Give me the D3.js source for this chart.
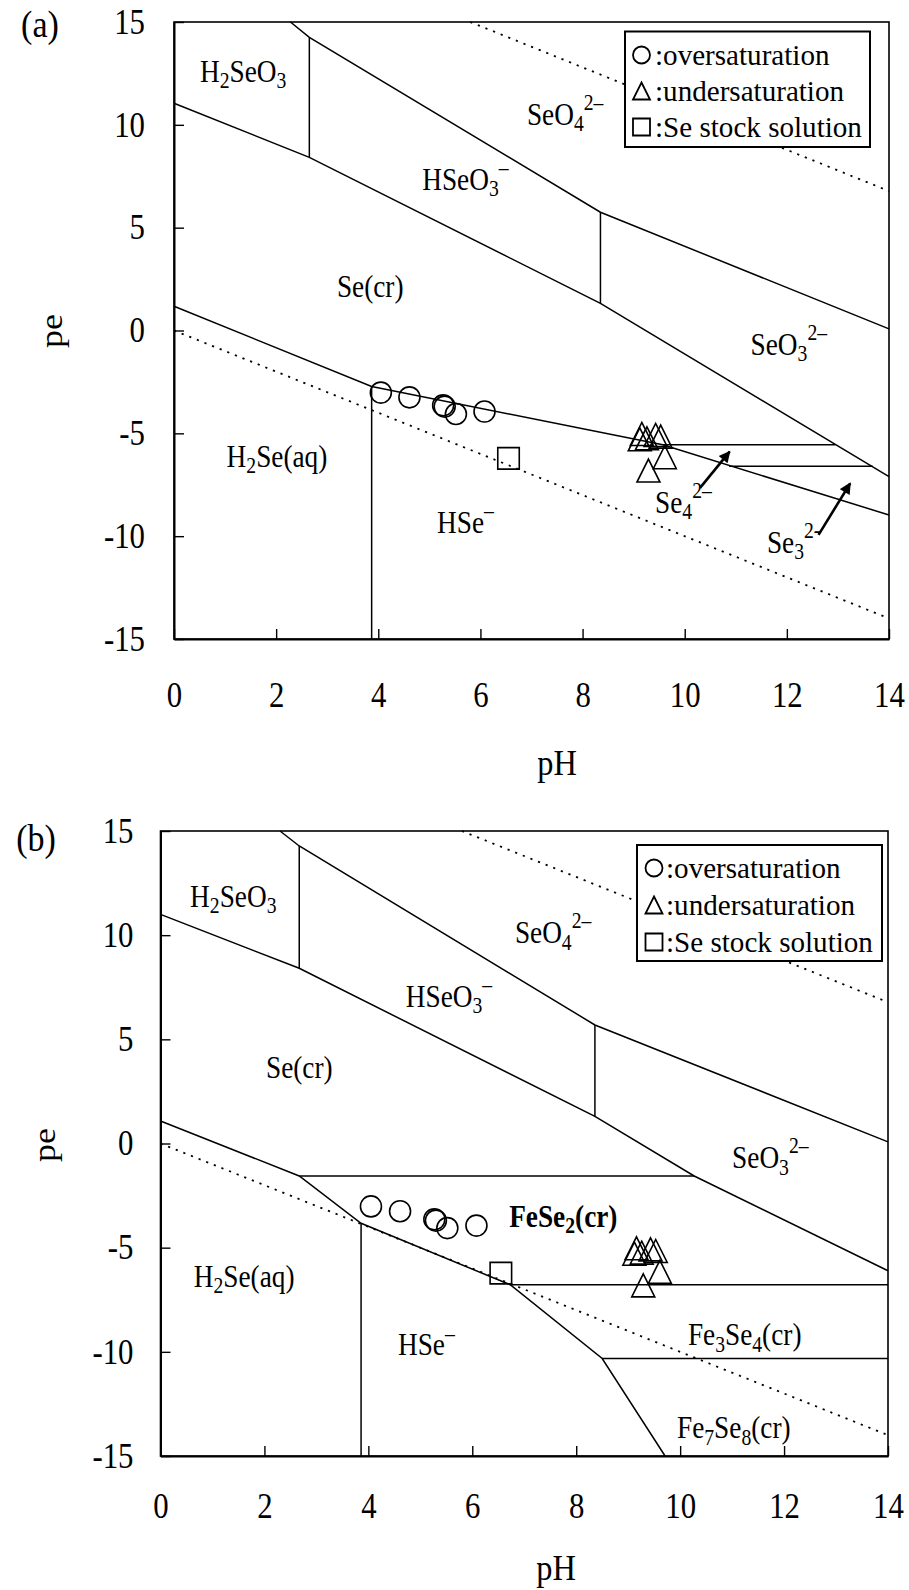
<!DOCTYPE html>
<html>
<head>
<meta charset="utf-8">
<script src="https://cdn.jsdelivr.net/npm/d3@7"></script>
<style>
  body { margin: 0; background: #fff; }
  svg { display: block; }
  text { font-family: "Liberation Serif", "Times New Roman", serif; fill: #000; }
</style>
</head>
<body>
<svg id="fig" width="909" height="1590"></svg>
<script>
// ---- axis ticks ----
const pHTicks = [0, 2, 4, 6, 8, 10, 12, 14];
const peTicks = [15, 10, 5, 0, -5, -10, -15];

// ---- measured solutions, [pH, pe] ----
const overPoints  = [[4.05, -3.02], [4.61, -3.25], [5.27, -3.64], [5.30, -3.70], [5.52, -4.06], [6.08, -3.94]];
const underPoints = [[9.16, -5.03], [9.43, -5.08], [9.53, -5.16], [9.12, -5.29], [9.26, -5.24], [9.61, -6.16], [9.29, -6.81]];
const stockPoints = [[6.55, -6.22]];

// ---- water stability limits (dotted) ----
const waterLimits = [
  [[5.8, 15], [14, 6.78]],
  [[0, 0], [14, -14]]
];

// ---- phase boundaries: Se–H2O system ----
const boundariesSe = [
  [[2.28, 15], [2.65, 14.25], [8.35, 5.75], [14, 0.08]],
  [[2.65, 14.25], [2.65, 8.42]],
  [[0, 11.05], [2.65, 8.42], [8.35, 1.32], [14, -7.1]],
  [[8.35, 5.75], [8.35, 1.32]],
  [[0, 1.18], [3.87, -2.72], [9.57, -5.56], [14, -8.97]],
  [[3.87, -2.72], [3.87, -15]],
  [[9.57, -5.56], [12.95, -5.56]],
  [[10.87, -6.6], [13.68, -6.6]]
];

// ---- phase boundaries: Fe–Se–H2O system ----
const boundariesFeSe = [
  [[2.3, 15], [2.67, 14.28], [8.36, 5.69], [14, 0.08]],
  [[2.67, 14.28], [2.67, 8.41]],
  [[0, 11.0], [2.67, 8.41], [8.36, 1.3], [10.27, -1.56], [14, -6.11]],
  [[8.36, 5.69], [8.36, 1.3]],
  [[0, 1.08], [2.67, -1.56], [3.86, -3.83], [6.73, -6.78], [8.5, -10.32], [9.71, -15]],
  [[2.67, -1.56], [10.27, -1.56]],
  [[3.86, -3.83], [3.86, -15]],
  [[6.73, -6.78], [14, -6.78]],
  [[8.5, -10.32], [14, -10.32]]
];

// ---- field labels: start pH, centre pe, text parts ----
const labelsSe = [
  { pH: 0.51, pe: 12.58, parts: [["H"], ["2", "sub"], ["SeO"], ["3", "sub"]] },
  { pH: 6.91, pe: 10.48, parts: [["SeO"], ["4", "sub"], ["2–", "sup"]] },
  { pH: 4.86, pe: 7.32,  parts: [["HSeO"], ["3", "sub"], ["–", "sup"]] },
  { pH: 3.19, pe: 2.12,  parts: [["Se(cr)"]] },
  { pH: 11.29, pe: -0.70, parts: [["SeO"], ["3", "sub"], ["2–", "sup"]] },
  { pH: 1.03, pe: -6.13, parts: [["H"], ["2", "sub"], ["Se(aq)"]] },
  { pH: 5.15, pe: -9.36, parts: [["HSe"], ["–", "sup"]] },
  { pH: 9.42, pe: -8.38, parts: [["Se"], ["4", "sub"], ["2–", "sup"]] },
  { pH: 11.61, pe: -10.33, parts: [["Se"], ["3", "sub"], ["2-", "sup"]] }
];
const labelsFeSe = [
  { pH: 0.57, pe: 11.85, parts: [["H"], ["2", "sub"], ["SeO"], ["3", "sub"]] },
  { pH: 6.82, pe: 10.10, parts: [["SeO"], ["4", "sub"], ["2–", "sup"]] },
  { pH: 4.72, pe: 7.05,  parts: [["HSeO"], ["3", "sub"], ["–", "sup"]] },
  { pH: 2.03, pe: 3.62,  parts: [["Se(cr)"]] },
  { pH: 11.0, pe: -0.70, parts: [["SeO"], ["3", "sub"], ["2–", "sup"]] },
  { pH: 6.71, pe: -3.52, parts: [["FeSe"], ["2", "sub"], ["(cr)"]], bold: true },
  { pH: 0.64, pe: -6.41, parts: [["H"], ["2", "sub"], ["Se(aq)"]] },
  { pH: 4.57, pe: -9.68, parts: [["HSe"], ["–", "sup"]] },
  { pH: 10.15, pe: -9.20, parts: [["Fe"], ["3", "sub"], ["Se"], ["4", "sub"], ["(cr)"]] },
  { pH: 9.94, pe: -13.66, parts: [["Fe"], ["7", "sub"], ["Se"], ["8", "sub"], ["(cr)"]] }
];

// ---- pointer arrows for the narrow polyselenide fields ----
const arrowsSe = [
  [[10.30, -7.65], [10.88, -5.89]],
  [[12.62, -9.94], [13.24, -7.43]]
];

// ---- legend entries ----
const legendKinds = ["circle", "triangle", "square"];
const legendTexts = [":oversaturation", ":undersaturation", ":Se stock solution"];

const panels = [
  { tag: "(a)", x0: 174, x1: 889, y0: 22, y1: 639,
    bounds: boundariesSe, labels: labelsSe, arrows: arrowsSe,
    legend: { x: 625, y: 31.5, w: 245, h: 115.5, sx: 641.5, tx: 655, rows: [55, 91, 127] },
    tagPos: [40, 24], xPad: 43, yPad: 29, xTitle: [557, 762], yTitle: [51, 331] },
  { tag: "(b)", x0: 160.5, x1: 888, y0: 831, y1: 1456,
    bounds: boundariesFeSe, labels: labelsFeSe, arrows: [],
    legend: { x: 637, y: 845, w: 245, h: 116, sx: 654, tx: 666, rows: [868, 905, 942] },
    tagPos: [36, 838], xPad: 37, yPad: 27, xTitle: [556, 1567], yTitle: [44, 1145] }
];

// glyphs in this figure are narrow and tall: horizontal squeeze factors
const SQ = { tick: 0.88, title: 0.9, tag: 0.92, field: 0.88, legend: 0.97 };
const FS = { tick: 35, title: 36, tag: 37, field: 31, legend: 30 };

const svg = d3.select("#fig");

const defs = svg.append("defs");
defs.append("marker")
  .attr("id", "head")
  .attr("viewBox", "0 0 10 10")
  .attr("refX", 9).attr("refY", 5)
  .attr("markerWidth", 5.2).attr("markerHeight", 4.4)
  .attr("markerUnits", "strokeWidth")
  .attr("orient", "auto")
  .append("path").attr("d", "M0,0 L10,5 L0,10 Z").attr("fill", "#000");

function shapePath(kind, s) {
  if (kind === "triangle") return `M0,${-s / 2} L${s / 2},${s / 2} L${-s / 2},${s / 2} Z`;
  return `M${-s / 2},${-s / 2} H${s / 2} V${s / 2} H${-s / 2} Z`;
}

function drawSymbol(g, kind, x, y, s, sw) {
  if (kind === "circle") {
    g.append("circle").attr("cx", x).attr("cy", y).attr("r", s / 2)
      .attr("fill", "none").attr("stroke", "#000").attr("stroke-width", sw);
  } else {
    g.append("path").attr("d", shapePath(kind, s)).attr("transform", `translate(${x},${y})`)
      .attr("fill", "none").attr("stroke", "#000").attr("stroke-width", sw);
  }
}

// text placed at (x, y) and squeezed horizontally by sx
function squeezedText(g, x, y, sx, size, anchor) {
  return g.append("g").attr("transform", `translate(${x},${y}) scale(${sx},1)`)
    .append("text").attr("text-anchor", anchor || "start")
    .style("font-size", size + "px");
}

function addRich(g, x, y, parts, size, bold) {
  const t = squeezedText(g, x, y, SQ.field, size).style("font-weight", bold ? "bold" : "normal");
  let cur = 0;
  parts.forEach(([s, kind]) => {
    const target = kind === "sub" ? size * 0.2 : kind === "sup" ? -size * 0.48 : 0;
    t.append("tspan")
      .attr("dy", target - cur)
      .style("font-size", (kind ? size * 0.72 : size) + "px")
      .text(s);
    cur = target;
  });
}

panels.forEach(p => {
  const x = d3.scaleLinear().domain([0, 14]).range([p.x0, p.x1]);
  const y = d3.scaleLinear().domain([-15, 15]).range([p.y1, p.y0]);
  const g = svg.append("g");
  const line = d3.line().x(d => x(d[0])).y(d => y(d[1]));

  // water limits
  g.selectAll(null).data(waterLimits).join("path")
    .attr("d", line).attr("fill", "none").attr("stroke", "#000")
    .attr("stroke-width", 1.8).attr("stroke-dasharray", "2.2,6");

  // phase boundaries
  g.selectAll(null).data(p.bounds).join("path")
    .attr("d", line).attr("fill", "none").attr("stroke", "#000")
    .attr("stroke-width", 1.5);

  // field labels
  p.labels.forEach(l => addRich(g, x(l.pH), y(l.pe) + FS.field * 0.33, l.parts, FS.field, l.bold));

  // arrows
  p.arrows.forEach(a => {
    g.append("line")
      .attr("x1", x(a[0][0])).attr("y1", y(a[0][1]))
      .attr("x2", x(a[1][0])).attr("y2", y(a[1][1]))
      .attr("stroke", "#000").attr("stroke-width", 2.6)
      .attr("marker-end", "url(#head)");
  });

  // sample points
  overPoints.forEach(d => drawSymbol(g, "circle", x(d[0]), y(d[1]), 21, 1.6));
  underPoints.forEach(d => drawSymbol(g, "triangle", x(d[0]), y(d[1]), 23, 1.6));
  stockPoints.forEach(d => drawSymbol(g, "square", x(d[0]), y(d[1]), 21.5, 1.6));

  // frame
  g.append("rect").attr("x", p.x0).attr("y", p.y0)
    .attr("width", p.x1 - p.x0).attr("height", p.y1 - p.y0)
    .attr("fill", "none").attr("stroke", "#000").attr("stroke-width", 1.6);

  // axes
  const xAxis = d3.axisBottom(x).tickValues(pHTicks).tickFormat(d => String(d))
    .tickSizeInner(-10).tickSizeOuter(0).tickPadding(p.xPad);
  const yAxis = d3.axisLeft(y).tickValues(peTicks).tickFormat(d => String(d))
    .tickSizeInner(-10).tickSizeOuter(0).tickPadding(p.yPad);
  const gx = g.append("g").attr("transform", `translate(0,${p.y1})`).call(xAxis);
  const gy = g.append("g").attr("transform", `translate(${p.x0},0)`).call(yAxis);
  [gx, gy].forEach(a => {
    a.select(".domain").attr("stroke", "#000").attr("stroke-width", 2);
    a.selectAll(".tick line").attr("stroke", "#000").attr("stroke-width", 1.4);
    a.selectAll(".tick text")
      .style("font-family", '"Liberation Serif", "Times New Roman", serif')
      .style("font-size", FS.tick + "px").attr("fill", "#000")
      .attr("x", function () { return (+d3.select(this).attr("x") || 0) / SQ.tick; })
      .attr("transform", `scale(${SQ.tick},1)`);
  });

  // legend
  const L = p.legend;
  const lg = g.append("g");
  lg.append("rect").attr("x", L.x).attr("y", L.y).attr("width", L.w).attr("height", L.h)
    .attr("fill", "#fff").attr("stroke", "#000").attr("stroke-width", 2);
  legendKinds.forEach((k, i) => {
    drawSymbol(lg, k, L.sx, L.rows[i], 17, 1.8);
    squeezedText(lg, L.tx, L.rows[i], SQ.legend, FS.legend).attr("dy", "0.34em").text(legendTexts[i]);
  });

  // titles
  squeezedText(g, p.xTitle[0], p.xTitle[1], SQ.title, FS.title, "middle").attr("dy", "0.35em").text("pH");
  g.append("g").attr("transform", `translate(${p.yTitle[0]},${p.yTitle[1]}) rotate(-90) scale(1,${SQ.title})`)
    .append("text").attr("dy", "0.35em").attr("text-anchor", "middle")
    .style("font-size", FS.title + "px").text("pe");
  squeezedText(g, p.tagPos[0], p.tagPos[1], SQ.tag, FS.tag, "middle").attr("dy", "0.35em").text(p.tag);
});
</script>
</body>
</html>
